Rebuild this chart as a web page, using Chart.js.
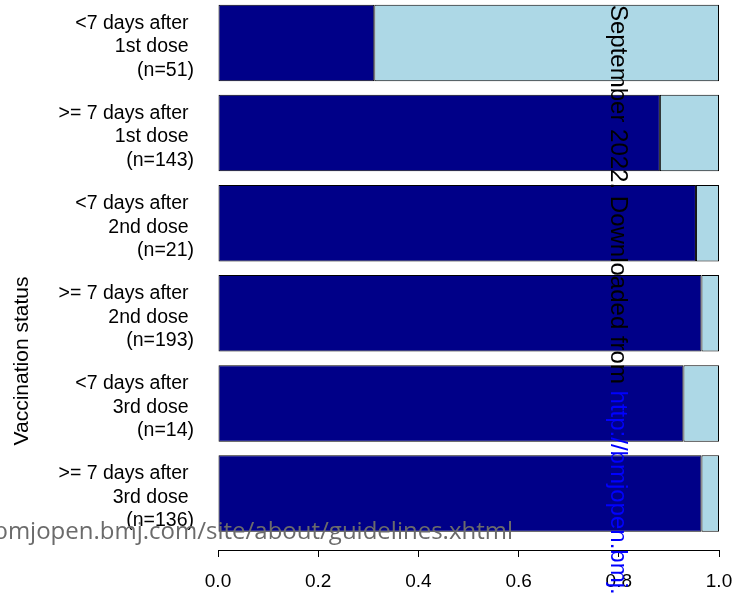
<!DOCTYPE html>
<html>
<head>
<meta charset="utf-8">
<script src="https://cdn.jsdelivr.net/npm/chart.js@4"></script>
<style>
html, body { margin: 0; padding: 0; background: #fff; }
</style>
</head>
<body>
<canvas id="myChart" width="732" height="593"></canvas>
<script>
// categories, read top to bottom
var timing = ['<7 days after', '>= 7 days after', '<7 days after', '>= 7 days after', '<7 days after', '>= 7 days after'];
var doses = ['1st dose', '1st dose', '2nd dose', '2nd dose', '3rd dose', '3rd dose'];
var counts = [51, 143, 21, 193, 14, 136];
var positions = [0, 1, 2, 3, 4, 5];

// share of each group (dark part / light part)
var darkShare = [0.312, 0.882, 0.954, 0.965, 0.929, 0.965];
var lightShare = [0.688, 0.118, 0.046, 0.035, 0.071, 0.035];

var xTicks = [0, 0.2, 0.4, 0.6, 0.8, 1.0];

function points(values) {
    return positions.map(function (p, i) {
        return { x: values[i], y: p };
    });
}

// texts that sit on top of the chart (watermarks + axis title)
var overlay = {
    id: 'overlay',
    afterDraw: function (chart) {
        var c = chart.ctx;
        c.save();
        // y axis title
        c.font = '21px "Liberation Sans", Arial, sans-serif';
        c.fillStyle = '#000';
        c.translate(28, 361);
        c.rotate(-Math.PI / 2);
        c.textAlign = 'center';
        c.textBaseline = 'alphabetic';
        c.fillText('Vaccination status', 0, 0);
        c.restore();

        // grey link across the bottom
        c.save();
        c.font = '24px "Open Sans", sans-serif';
        c.fillStyle = '#6b6b6b';
        c.textAlign = 'right';
        c.textBaseline = 'alphabetic';
        c.fillText('http://bmjopen.bmj.com/site/about/guidelines.xhtml', 513, 539);
        c.restore();

        // vertical line of text
        c.save();
        c.font = '24px "Liberation Sans", Arial, sans-serif';
        c.translate(611, 5);
        c.rotate(Math.PI / 2);
        c.textAlign = 'left';
        c.textBaseline = 'alphabetic';
        var part1 = 'September 2022. Downloaded from ';
        c.fillStyle = '#000';
        c.fillText(part1, 0, 0);
        c.fillStyle = '#0000ff';
        c.fillText('http://bmjopen.bmj.com/', c.measureText(part1).width, 0);
        c.restore();
    }
};

var ctx = document.getElementById('myChart').getContext('2d');
var myChart = new Chart(ctx, {
    type: 'bar',
    data: {
        datasets: [{
            data: points(darkShare),
            backgroundColor: '#000088',
            borderColor: '#000',
            borderWidth: 1,
            borderSkipped: false,
            categoryPercentage: 0.849,
            barPercentage: 1
        }, {
            data: points(lightShare),
            backgroundColor: '#add8e6',
            borderColor: '#000',
            borderWidth: 1,
            borderSkipped: false,
            categoryPercentage: 0.849,
            barPercentage: 1
        }]
    },
    options: {
        indexAxis: 'y',
        responsive: false,
        animation: false,
        devicePixelRatio: 1,
        layout: { padding: 0 },
        plugins: {
            legend: { display: false },
            tooltip: { enabled: false }
        },
        scales: {
            x: {
                type: 'linear',
                stacked: true,
                min: 0,
                max: 1,
                position: 'bottom',
                afterBuildTicks: function (s) {
                    s.ticks = xTicks.map(function (v) { return { value: v }; });
                },
                afterFit: function (s) {
                    s.height = 43;
                    s.paddingRight = 13;
                    s.paddingLeft = 0;
                },
                ticks: {
                    callback: function (v) { return v.toFixed(1); },
                    color: '#000',
                    font: { family: 'Liberation Sans', size: 19 },
                    padding: 13,
                    maxRotation: 0
                },
                grid: { drawOnChartArea: false, drawTicks: true, tickLength: 7, color: '#000', lineWidth: 1 },
                border: { display: true, color: '#000', width: 1 }
            },
            y: {
                type: 'linear',
                stacked: true,
                reverse: true,
                offset: false,
                min: -0.477,
                max: 5.627,
                afterBuildTicks: function (s) {
                    s.ticks = positions.map(function (v) { return { value: v }; });
                },
                afterFit: function (s) {
                    s.width = 218;
                    s.paddingTop = 0;
                    s.paddingBottom = 0;
                },
                ticks: {
                    autoSkip: false,
                    callback: function (v) {
                        return [timing[v] + ' ', doses[v] + ' ', '(n=' + counts[v] + ')'];
                    },
                    color: '#000',
                    font: { family: 'Liberation Sans', size: 19.5, lineHeight: 1.205 },
                    padding: 24,
                    labelOffset: 4
                },
                grid: { display: false, drawTicks: false, offset: false },
                border: { display: false }
            }
        }
    },
    plugins: [overlay]
});
</script>
</body>
</html>
